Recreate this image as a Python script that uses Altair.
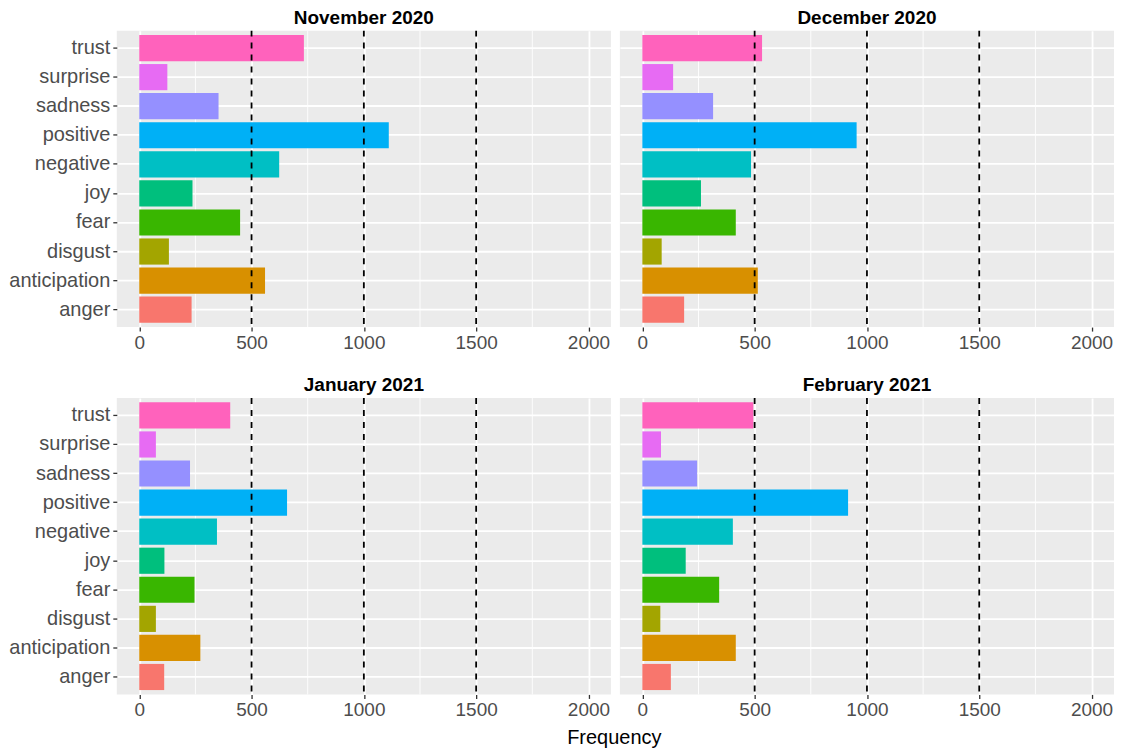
import altair as alt
import pandas as pd

months = ["November 2020", "December 2020", "January 2021", "February 2021"]
emotions = ["anger", "anticipation", "disgust", "fear", "joy",
            "negative", "positive", "sadness", "surprise", "trust"]
nov_2020 = [233, 560, 132, 449, 237, 623, 1111, 353, 125, 733]
dec_2020 = [186, 514, 86, 416, 261, 484, 954, 315, 137, 533]
jan_2021 = [111, 272, 74, 246, 112, 346, 658, 226, 74, 405]
feb_2021 = [127, 416, 80, 342, 193, 403, 916, 244, 83, 494]
colors = ["#F8766D", "#D89000", "#A3A500", "#39B600", "#00BF7D",
          "#00BFC4", "#00B0F6", "#9590FF", "#E76BF3", "#FF62BC"]
ref_lines = [500, 1000, 1500]
major_ticks = [0, 500, 1000, 1500, 2000]
minor_grid = [250, 750, 1250, 1750]

FONT = "Liberation Sans"
XDOM = [-100, 2100]


def xscale():
    return alt.Scale(domain=XDOM, nice=False, zero=False)


def panel(month, vals, show_y):
    df = pd.DataFrame({"emotion": emotions, "n": vals})
    xaxis = alt.Axis(values=major_ticks, title=None, grid=True, gridColor="white",
                     gridWidth=1.8, tickColor="#333333", tickSize=4, tickWidth=1.3,
                     labelColor="#4D4D4D", labelFontSize=19, labelPadding=2,
                     domain=False, format="d", labelFont=FONT)
    if show_y:
        yaxis = alt.Axis(title=None, bandPosition=0.5, grid=True, gridColor="white",
                         gridWidth=1.8, tickColor="#333333", tickSize=4, tickWidth=1.3,
                         labelColor="#4D4D4D", labelFontSize=20, labelPadding=3,
                         domain=False, labelFont=FONT)
    else:
        yaxis = alt.Axis(title=None, bandPosition=0.5, grid=True, gridColor="white",
                         gridWidth=1.8, ticks=False, labels=False, domain=False)
    bars = alt.Chart(df).mark_bar().encode(
        x=alt.X("n:Q", scale=xscale(), axis=xaxis),
        x2=alt.datum(0),
        y=alt.Y("emotion:N", sort=emotions[::-1],
                scale=alt.Scale(paddingInner=0.1, paddingOuter=0.15), axis=yaxis),
        color=alt.Color("emotion:N", scale=alt.Scale(domain=emotions, range=colors),
                        legend=None),
    )
    minor = alt.Chart(pd.DataFrame({"v": minor_grid})).mark_rule(
        color="white", strokeWidth=0.9).encode(x=alt.X("v:Q", scale=xscale(), axis=xaxis))
    dash = alt.Chart(pd.DataFrame({"v": ref_lines})).mark_rule(
        color="black", strokeDash=[6, 6], strokeWidth=1.8).encode(
        x=alt.X("v:Q", scale=xscale(), axis=xaxis))
    return alt.layer(minor, bars, dash).properties(
        width=495, height=297,
        title=alt.TitleParams(month, fontSize=19, fontWeight="bold", font=FONT,
                              color="black", anchor="middle", frame="group", offset=2),
    )


p1 = panel(months[0], nov_2020, True)
p2 = panel(months[1], dec_2020, False)
p3 = panel(months[2], jan_2021, True)
p4 = panel(months[3], feb_2021, False)

chart = alt.vconcat(
    alt.hconcat(p1, p2, spacing=9),
    alt.hconcat(p3, p4, spacing=9),
    spacing=24,
).properties(
    padding=0,
    background="white",
    title=alt.TitleParams("Frequency", orient="bottom", anchor="middle", frame="bounds",
                          fontSize=20, fontWeight="normal", font=FONT, color="black",
                          offset=9, dx=53),
).configure_view(fill="#EBEBEB", stroke=None)

chart.save("out.html", embed_options={"renderer": "svg", "actions": False})
